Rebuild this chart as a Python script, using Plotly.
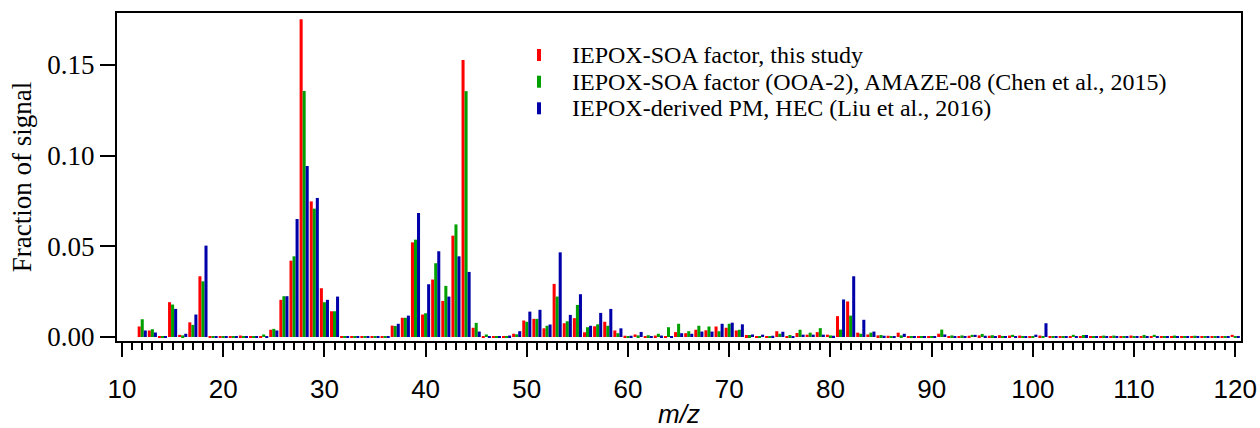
import plotly.graph_objects as go

mz = list(range(12, 121))

this_study = [
    0.0058, 0.0036, 0.0002, 0.0192, 0.0012, 0.0081, 0.0335, 0.0002, 0.0002, 0.0002,  # 12-21
    0.0008, 0.0002, 0.0004, 0.0040, 0.0205, 0.0421, 0.1752, 0.0748, 0.0269, 0.0142,  # 22-31
    0.0002, 0.0002, 0.0002, 0.0002, 0.0002, 0.0063, 0.0106, 0.0522, 0.0124, 0.0317,  # 32-41
    0.0199, 0.0559, 0.1528, 0.0051, 0.0003, 0.0002, 0.0002, 0.0018, 0.0091, 0.0100,  # 42-51
    0.0048, 0.0293, 0.0076, 0.0104, 0.0026, 0.0059, 0.0084, 0.0036, 0.0007, 0.0014,  # 52-61
    0.0005, 0.0008, 0.0002, 0.0027, 0.0021, 0.0040, 0.0037, 0.0058, 0.0051, 0.0036,  # 62-71
    0.0011, 0.0004, 0.0005, 0.0032, 0.0003, 0.0022, 0.0013, 0.0027, 0.0013, 0.0115,  # 72-81
    0.0196, 0.0024, 0.0014, 0.0009, 0.0007, 0.0024, 0.0002, 0.0002, 0.0002, 0.0018,  # 82-91
    0.0004, 0.0002, 0.0007, 0.0009, 0.0007, 0.0010, 0.0008, 0.0008, 0.0005, 0.0008,  # 92-101
    0.0003, 0.0003, 0.0005, 0.0005, 0.0004, 0.0004, 0.0004, 0.0004, 0.0008, 0.0004,  # 102-111
    0.0005, 0.0004, 0.0004, 0.0004, 0.0004, 0.0004, 0.0004, 0.0004, 0.0012,          # 112-120
]

amaze08 = [
    0.0098, 0.0043, 0.0001, 0.0179, 0.0009, 0.0067, 0.0307, 0.0002, 0.0001, 0.0001,
    0.0002, 0.0001, 0.0014, 0.0045, 0.0225, 0.0445, 0.1357, 0.0708, 0.0192, 0.0142,
    0.0002, 0.0002, 0.0002, 0.0002, 0.0002, 0.0061, 0.0106, 0.0537, 0.0131, 0.0407,
    0.0282, 0.0621, 0.1356, 0.0078, 0.0014, 0.0003, 0.0004, 0.0015, 0.0084, 0.0100,
    0.0062, 0.0223, 0.0087, 0.0177, 0.0054, 0.0070, 0.0062, 0.0021, 0.0002, 0.0009,
    0.0010, 0.0018, 0.0054, 0.0073, 0.0032, 0.0062, 0.0058, 0.0032, 0.0073, 0.0040,
    0.0011, 0.0005, 0.0005, 0.0018, 0.0011, 0.0040, 0.0024, 0.0049, 0.0009, 0.0041,
    0.0118, 0.0018, 0.0024, 0.0011, 0.0005, 0.0009, 0.0002, 0.0005, 0.0002, 0.0041,
    0.0009, 0.0009, 0.0012, 0.0017, 0.0010, 0.0005, 0.0012, 0.0005, 0.0005, 0.0005,
    0.0003, 0.0004, 0.0012, 0.0011, 0.0004, 0.0008, 0.0008, 0.0004, 0.0005, 0.0011,
    0.0012, 0.0005, 0.0008, 0.0004, 0.0007, 0.0004, 0.0005, 0.0004, 0.0004,
]

hec = [
    0.0036, 0.0025, 0.0002, 0.0155, 0.0018, 0.0124, 0.0504, 0.0002, 0.0002, 0.0002,
    0.0003, 0.0002, 0.0002, 0.0036, 0.0225, 0.0651, 0.0943, 0.0767, 0.0205, 0.0223,
    0.0002, 0.0002, 0.0002, 0.0002, 0.0002, 0.0073, 0.0118, 0.0684, 0.0291, 0.0473,
    0.0223, 0.0445, 0.0359, 0.0030, 0.0003, 0.0002, 0.0008, 0.0032, 0.0140, 0.0150,
    0.0069, 0.0467, 0.0122, 0.0236, 0.0062, 0.0133, 0.0155, 0.0048, 0.0007, 0.0028,
    0.0005, 0.0008, 0.0003, 0.0021, 0.0018, 0.0030, 0.0030, 0.0073, 0.0079, 0.0070,
    0.0014, 0.0013, 0.0007, 0.0029, 0.0003, 0.0013, 0.0013, 0.0013, 0.0007, 0.0207,
    0.0335, 0.0095, 0.0030, 0.0007, 0.0004, 0.0018, 0.0002, 0.0002, 0.0003, 0.0014,
    0.0002, 0.0002, 0.0012, 0.0007, 0.0004, 0.0002, 0.0002, 0.0003, 0.0013, 0.0076,
    0.0002, 0.0002, 0.0004, 0.0011, 0.0003, 0.0003, 0.0003, 0.0003, 0.0003, 0.0003,
    0.0003, 0.0003, 0.0003, 0.0003, 0.0003, 0.0003, 0.0003, 0.0003, 0.0003,
]

series_names = [
    "IEPOX-SOA factor, this study",
    "IEPOX-SOA factor (OOA-2), AMAZE-08 (Chen et al., 2015)",
    "IEPOX-derived PM, HEC (Liu et al., 2016)",
]
series_colors = ["#ff0000", "#00a000", "#0000a8"]
y_ticks = [0.00, 0.05, 0.10, 0.15]
y_tick_labels = ["0.00", "0.05", "0.10", "0.15"]

SERIF = "Liberation Serif, Times New Roman, serif"
SANS = "Liberation Sans, Arial, sans-serif"

W, H = 1260, 428
ML, MR, MT, MB = 117, 19, 13, 87
PW, PH = W - ML - MR, H - MT - MB

fig = go.Figure()
for name, vals, col in zip(series_names, [this_study, amaze08, hec], series_colors):
    fig.add_trace(go.Bar(x=mz, y=vals, name=name, marker=dict(color=col, line=dict(width=0)),
                         showlegend=False))

fig.update_layout(
    width=W, height=H,
    margin=dict(l=ML, r=MR, t=MT, b=MB, autoexpand=False),
    plot_bgcolor="white", paper_bgcolor="white",
    barmode="group", bargap=0.1, bargroupgap=0.0,
    showlegend=False,
)

fig.update_xaxes(
    range=[9.506, 120.57], tick0=10, dtick=10, automargin=False,
    ticks="outside", ticklen=14, tickwidth=2, tickcolor="black",
    minor=dict(dtick=1, ticks="outside", ticklen=7, tickwidth=2, tickcolor="black"),
    showline=True, linewidth=2, linecolor="black", mirror=True,
    showgrid=False, zeroline=False,
    tickfont=dict(family=SANS, size=26, color="black"),
    ticklabelstandoff=10,
)
fig.update_yaxes(
    range=[-0.0022, 0.1787], tickvals=y_ticks, ticktext=y_tick_labels, automargin=False,
    ticks="outside", ticklen=15, tickwidth=2, tickcolor="black",
    showline=True, linewidth=2, linecolor="black", mirror=True,
    showgrid=False, zeroline=False,
    tickfont=dict(family=SERIF, size=27, color="black"),
    title=dict(text="Fraction of signal", font=dict(family=SERIF, size=27, color="black"),
               standoff=8),
)

# x-axis title placed below the tick labels
fig.add_annotation(text="<i>m/z</i>", xref="paper", yref="paper",
                   x=0.5, y=-(414 - (MT + PH)) / PH, xanchor="center", yanchor="middle",
                   showarrow=False, font=dict(family=SANS, size=26, color="black"))

# legend drawn as text entries with short vertical bar swatches
legend_y = [55, 81.7, 108.3]
for name, col, yc in zip(series_names, series_colors, legend_y):
    yp = 1 - (yc - MT) / PH
    xs = (539 - ML) / PW
    fig.add_shape(type="line", xref="paper", yref="paper",
                  x0=xs, x1=xs, y0=yp - 6 / PH, y1=yp + 6 / PH,
                  line=dict(color=col, width=4))
    fig.add_annotation(text=name, xref="paper", yref="paper",
                       x=(570 - ML) / PW, y=yp,
                       xanchor="left", yanchor="middle", showarrow=False,
                       font=dict(family=SERIF, size=24, color="black"))

fig.write_html("out.html")
